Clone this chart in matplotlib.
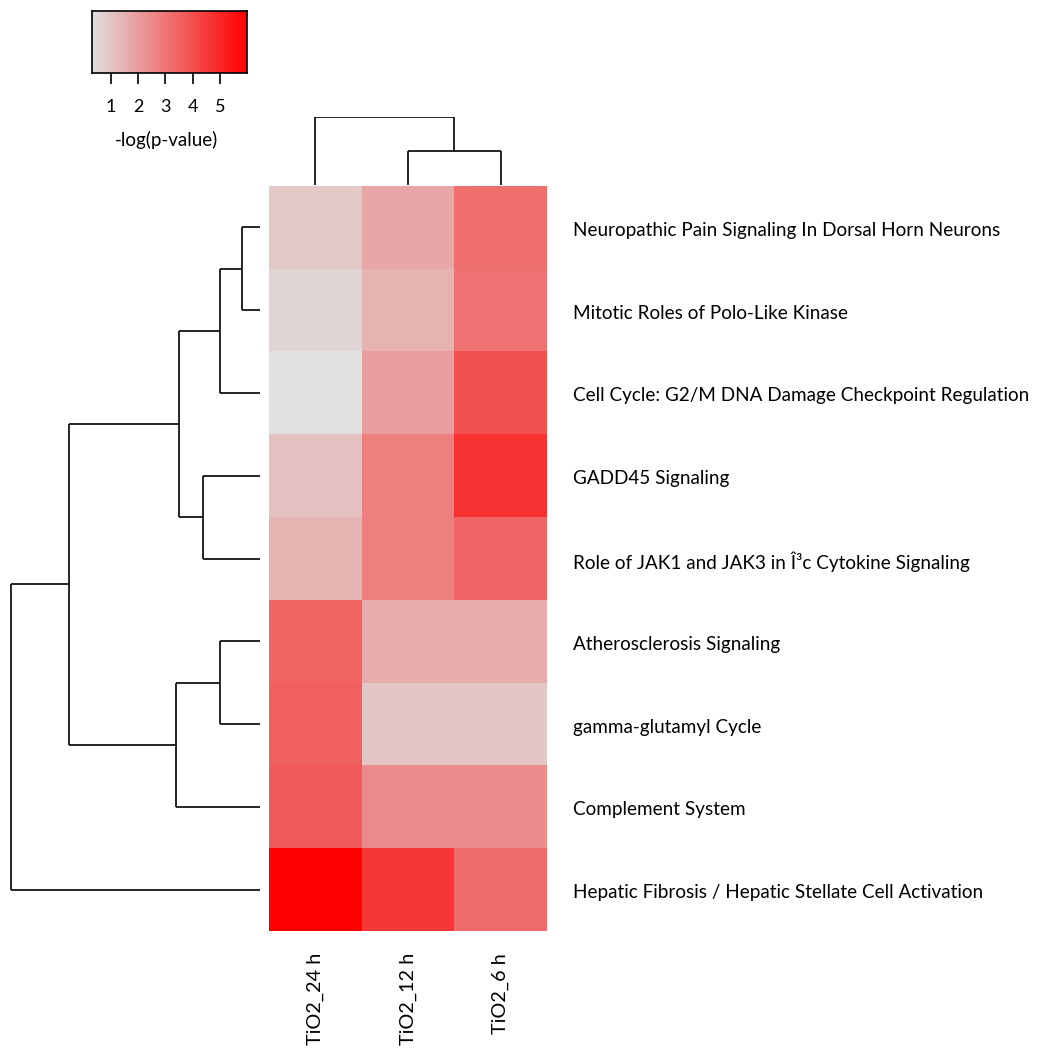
import numpy as np
import matplotlib
matplotlib.use('Agg')
import matplotlib.pyplot as plt
from matplotlib.colors import LinearSegmentedColormap

W, H = 1042, 1048
DPI = 100

plt.rcParams['font.family'] = ['Lato', 'DejaVu Sans']

pathways = ['Neuropathic Pain Signaling In Dorsal Horn Neurons',
            'Mitotic Roles of Polo-Like Kinase',
            'Cell Cycle: G2/M DNA Damage Checkpoint Regulation',
            'GADD45 Signaling',
            'Role of JAK1 and JAK3 in \u00ce\u00b3c Cytokine Signaling',
            'Atherosclerosis Signaling',
            'gamma-glutamyl Cycle',
            'Complement System',
            'Hepatic Fibrosis / Hepatic Stellate Cell Activation']
samples = ['TiO2_24 h', 'TiO2_12 h', 'TiO2_6 h']

# -log(p-value), rows in the order above, columns in the order of samples
neg_log_p = np.array([
    [0.91, 1.73, 3.15],
    [0.61, 1.44, 3.09],
    [0.30, 1.95, 3.95],
    [1.10, 2.75, 4.69],
    [1.44, 2.75, 3.38],
    [3.44, 1.61, 1.61],
    [3.55, 0.96, 0.96],
    [3.72, 2.44, 2.44],
    [6.00, 4.58, 3.26],
])

# dendrogram merges: (left, right, height); new cluster ids follow the leaves
row_merges = [(0, 1, 18), (9, 2, 40), (3, 4, 57), (10, 11, 81),
              (5, 6, 40), (13, 7, 84), (12, 14, 191), (15, 8, 249)]
col_merges = [(1, 2, 34), (0, 3, 68)]

vmin, vmax = 0.30, 6.00
cbar_ticks = [1, 2, 3, 4, 5]

cmap = LinearSegmentedColormap.from_list('gr', ['#e0e0e0', '#ff0000'])


def px_axes(fig, x0, y0, x1, y1):
    return fig.add_axes([x0 / W, 1 - y1 / H, (x1 - x0) / W, (y1 - y0) / H])


def dendro_segments(merges, n_leaves):
    pos = {i: i + 0.5 for i in range(n_leaves)}
    hgt = {i: 0.0 for i in range(n_leaves)}
    segs = []
    for k, (a, b, h) in enumerate(merges):
        cid = n_leaves + k
        segs.append(([pos[a], pos[a]], [hgt[a], h]))
        segs.append(([pos[b], pos[b]], [hgt[b], h]))
        segs.append(([pos[a], pos[b]], [h, h]))
        pos[cid] = (pos[a] + pos[b]) / 2
        hgt[cid] = h
    return segs


fig = plt.figure(figsize=(W / DPI, H / DPI), dpi=DPI)

# heatmap
hx0, hx1, hy0, hy1 = 269, 547, 186, 931
ax = px_axes(fig, hx0, hy0, hx1, hy1)
ax.imshow(neg_log_p, cmap=cmap, vmin=vmin, vmax=vmax, aspect='auto',
          interpolation='nearest', extent=(0, 3, 9, 0))
ax.set_xlim(0, 3)
ax.set_ylim(9, 0)
ax.axis('off')
for i, name in enumerate(pathways):
    ax.text(3 + 26 / 92.7, i + 0.5 + 3 / 82.8, name, ha='left', va='center',
            fontsize=13.6)
for j, name in enumerate(samples):
    ax.text(j + 0.5, 9 + 22 / 82.8, name, ha='center', va='top',
            rotation=90, fontsize=14.3)

# row dendrogram
rax = px_axes(fig, 10, hy0, 260, hy1)
for ys, xs in dendro_segments(row_merges, len(pathways)):
    rax.plot(xs, ys, color='black', lw=1.2, solid_capstyle='butt')
rax.set_xlim(row_merges[-1][2] + 0.5, 0)
rax.set_ylim(9, 0)
rax.axis('off')

# column dendrogram
cax = px_axes(fig, hx0, 117, hx1, 185)
for xs, ys in dendro_segments(col_merges, len(samples)):
    cax.plot(xs, ys, color='black', lw=1.2, solid_capstyle='butt')
cax.set_xlim(0, 3)
cax.set_ylim(0, col_merges[-1][2] + 0.5)
cax.axis('off')

# colour key
kax = px_axes(fig, 92, 11, 247, 73)
grad = np.linspace(vmin, vmax, 256)[None, :]
kax.imshow(grad, cmap=cmap, vmin=vmin, vmax=vmax, aspect='auto',
           extent=(vmin, vmax, 0, 1))
kax.set_xlim(vmin, vmax)
kax.set_yticks([])
kax.set_xticks(cbar_ticks)
kax.set_xticklabels([str(t) for t in cbar_ticks], fontsize=13)
kax.tick_params(axis='x', length=8, width=1.2, pad=11)
for s in kax.spines.values():
    s.set_linewidth(1.2)
kax.text((vmin + vmax) / 2 - 0.1, -1.08, '-log(p-value)', ha='center',
         va='center', fontsize=13.5, transform=kax.transData)

fig.savefig('out.png', dpi=DPI)
